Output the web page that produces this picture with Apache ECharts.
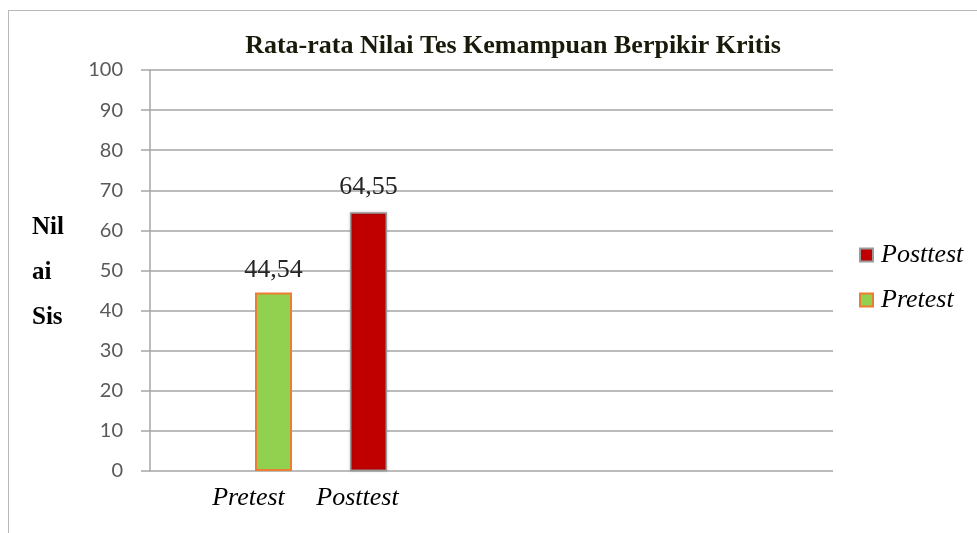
<!DOCTYPE html>
<html style="height: 100%">
<head>
    <meta charset="UTF-8">
    <title>Rata-rata Nilai</title>
</head>
<body style="height: 100%; margin: 0; background: #fff">
<div id="frame" style="position: absolute; left: 8px; top: 10px; right: 0; bottom: 0; border-top: 1px solid #b8b8b8; border-left: 1px solid #b8b8b8"></div>
<div id="container" style="position: absolute; left: 0; top: 0; width: 977px; height: 533px"></div>
<script src="https://cdn.jsdelivr.net/npm/echarts@6/dist/echarts.min.js"></script>
<script>
    // data
    var categories = ['Pretest', 'Posttest'];
    var pretestValues = [44.54, '-'];
    var posttestValues = ['-', 64.55];
    var legendOrder = ['Posttest', 'Pretest'];

    var serif = '"Liberation Serif", "DejaVu Serif", serif';
    var fmt = function (p) { return String(p.value).replace('.', ','); };

    var myChart = echarts.init(document.getElementById('container'));
    var option = {
        animation: false,
        title: [
            {
                text: 'Rata-rata Nilai Tes Kemampuan Berpikir Kritis',
                left: 508,
                textAlign: 'center',
                top: 28,
                textStyle: { fontFamily: serif, fontSize: 26, fontWeight: 'bold', color: '#1a1a0a' }
            },
            {
                text: 'Nil\nai\nSis',
                left: 27,
                top: 200,
                textStyle: { fontFamily: serif, fontSize: 25, fontWeight: 'bold', color: '#000', lineHeight: 45 }
            }
        ],
        legend: {
            data: legendOrder,
            orient: 'vertical',
            left: 854,
            top: 237,
            itemWidth: 13,
            itemHeight: 13,
            itemGap: 19,
            icon: 'rect',
            textStyle: { fontFamily: serif, fontSize: 26, fontStyle: 'italic', color: '#000', padding: [0, 0, 0, 3] }
        },
        grid: [
            { left: 150, right: 144, top: 70, bottom: 62 },
            { left: 226, width: 190, top: 70, bottom: 62 }
        ],
        xAxis: [
            { gridIndex: 0, type: 'value', show: false, min: 0, max: 1 },
            {
                gridIndex: 1,
                type: 'category',
                data: categories,
                axisLine: { show: false },
                axisTick: { show: false },
                axisLabel: {
                    margin: 14,
                    formatter: function (v, i) { return i === 0 ? '{a|' + v + '}' : '{b|' + v + '}'; },
                    rich: {
                        a: { padding: [0, 50, 0, 0], fontFamily: serif, fontSize: 26, fontStyle: 'italic', color: '#000' },
                        b: { padding: [0, 22, 0, 0], fontFamily: serif, fontSize: 26, fontStyle: 'italic', color: '#000' }
                    }
                }
            }
        ],
        yAxis: [
            {
                gridIndex: 0,
                type: 'value',
                min: 0,
                max: 100,
                interval: 10,
                axisLine: { show: true, lineStyle: { color: '#a6a6a6', width: 1.5 } },
                axisTick: { show: true, length: 9, lineStyle: { color: '#a6a6a6', width: 1.5 } },
                splitLine: { lineStyle: { color: '#a6a6a6', width: 1.5 } },
                axisLabel: { margin: 27, fontFamily: 'Lato, "Open Sans", sans-serif', fontSize: 20, color: '#595959' }
            },
            { gridIndex: 1, type: 'value', min: 0, max: 100, show: false, splitLine: { show: false } }
        ],
        series: [
            {
                name: 'Pretest',
                type: 'bar',
                xAxisIndex: 1,
                yAxisIndex: 1,
                stack: 'one',
                barWidth: 37,
                data: pretestValues,
                itemStyle: { color: '#92d050', borderColor: '#ed7d31', borderWidth: 2 },
                label: {
                    show: true, position: 'top', distance: 9, formatter: fmt,
                    fontFamily: serif, fontSize: 26, color: '#262626'
                }
            },
            {
                name: 'Posttest',
                type: 'bar',
                xAxisIndex: 1,
                yAxisIndex: 1,
                stack: 'one',
                barWidth: 37,
                data: posttestValues,
                itemStyle: {
                    color: '#c00000', borderColor: '#9a9a9a', borderWidth: 1.5,
                    shadowColor: 'rgba(0,0,0,0.25)', shadowBlur: 3
                },
                label: {
                    show: true, position: 'top', distance: 12, formatter: fmt,
                    fontFamily: serif, fontSize: 26, color: '#262626'
                }
            }
        ]
    };
    myChart.setOption(option);
</script>
</body>
</html>
